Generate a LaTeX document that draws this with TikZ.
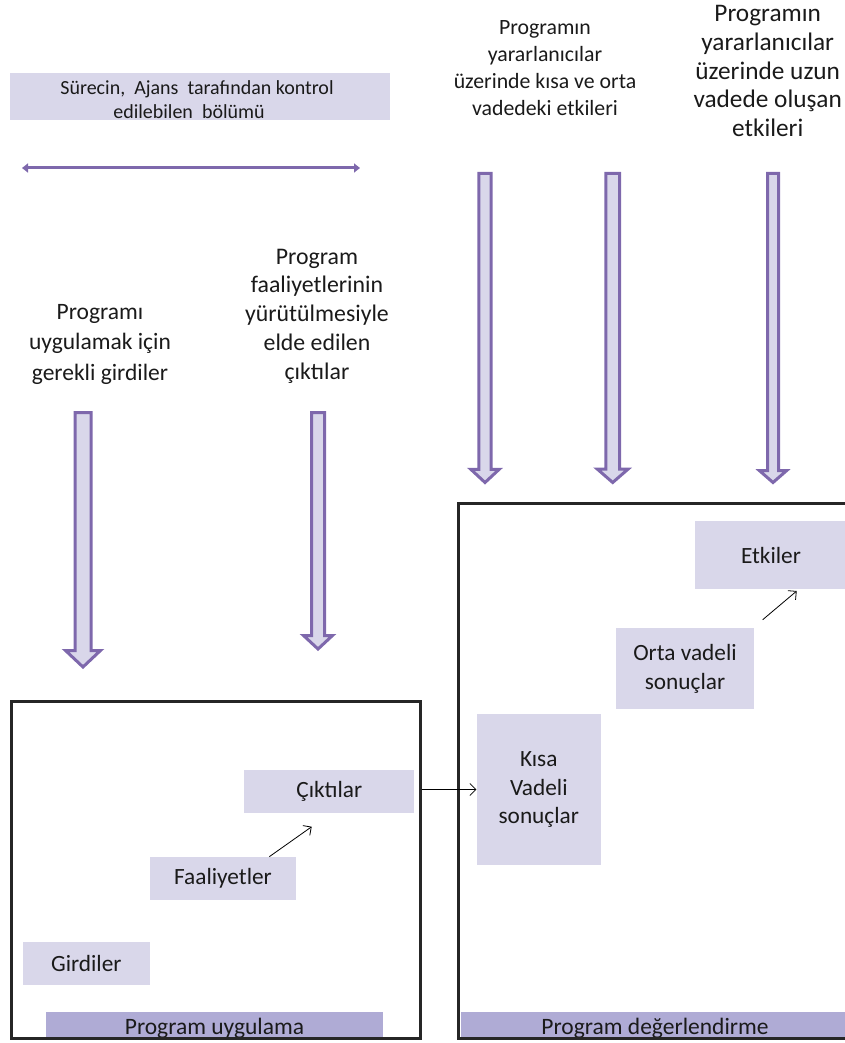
\documentclass[tikz,border=0pt]{standalone}
\usepackage{fontspec}
\setmainfont{Carlito}
\usetikzlibrary{arrows.meta}
\definecolor{lav}{HTML}{D9D7EA}
\definecolor{barc}{HTML}{AFABD5}
\definecolor{purp}{HTML}{7E68AC}
\definecolor{txt}{HTML}{1A1A1A}
\newcommand\blockarr[6]{% x, ytop, yneck, ytip, halfshaft, halfhead
  \draw[barrow] (#1-#5,#2) -- (#1+#5,#2) -- (#1+#5,#3) -- (#1+#6,#3) -- (#1,#4) -- (#1-#6,#3) -- (#1-#5,#3) -- cycle;}
\begin{document}
\begin{tikzpicture}[x=1pt,y=-1pt,
  lbox/.style={fill=lav, inner sep=0pt, text=txt, align=center, font=\fontsize{23.3}{28.9}\selectfont},
  bigtxt/.style={align=center, text=txt, inner sep=0pt},
  barrow/.style={draw=purp, fill=lav, line width=3pt, line join=miter},
  frame/.style={draw=black!85, line width=3pt},
  thinarr/.style={draw=black, line width=0.8pt, -{Straight Barb[length=6pt,width=12pt]}}]
\useasboundingbox (0,0) rectangle (845,1043);

% top-left label box and double arrow
\node[lbox, minimum width=380pt, minimum height=47pt] (ctrl) at (200,96.5) {};
\node[bigtxt, font=\fontsize{20}{23.5}\selectfont] (ctrlt) at (197,99.5) {Sürecin,\ \ Ajans\ \ tarafından kontrol\\edilebilen\ \ bölümü\hspace*{16pt}};
\coordinate (dl) at (22,168);
\coordinate (dr) at (360,168);
\draw[purp, line width=3pt, {Triangle[length=6pt,width=9pt]}-{Triangle[length=6pt,width=9pt]}] (dl) -- (dr);

% header texts
\node[bigtxt, font=\fontsize{23.5}{30.5}\selectfont] (t1) at (100,344) {Programı\\uygulamak için\\gerekli girdiler};
\node[bigtxt, font=\fontsize{23.8}{28.8}\selectfont] (t2) at (317,316) {Program\\faaliyetlerinin\\yürütülmesiyle\\elde edilen\\çıktılar};
\node[bigtxt, font=\fontsize{21.8}{27}\selectfont] (t3) at (545,68.5) {Programın\\yararlanıcılar\\üzerinde kısa ve orta\\vadedeki etkileri};
\node[bigtxt, font=\fontsize{25.3}{28.75}\selectfont] (t4) at (767.7,71) {Programın\\yararlanıcılar\\üzerinde uzun\\vadede oluşan\\etkileri};

% block arrows
\blockarr{83}{412.5}{650.5}{667}{8}{17.5}
\blockarr{318}{412.5}{635.5}{649}{6.5}{14.5}
\blockarr{485}{173.5}{469.3}{482.5}{6.2}{14.2}
\blockarr{612.7}{173.5}{469}{482.5}{6.8}{15.5}
\blockarr{773}{173.5}{470.7}{482.5}{5.5}{13.5}

% bottom bars (clipped text)
\fill[barc] (46,1011.7) rectangle (383,1038);
\begin{scope}
  \clip (46,1011.7) rectangle (383,1038);
  \node[anchor=base, inner sep=0pt, text=txt, font=\fontsize{23.5}{27}\selectfont] (pu) at (214.5,1034) {Program uygulama};
\end{scope}
\fill[barc] (461,1011.7) rectangle (845,1038);
\begin{scope}
  \clip (461,1011.7) rectangle (845,1038);
  \node[anchor=base, inner sep=0pt, text=txt, font=\fontsize{23.5}{27}\selectfont] (pd) at (655,1034.5) {Program değerlendirme};
\end{scope}

% frames
\draw[frame] (11.5,701) rectangle (420,1038.8);
\draw[frame] (850,503.4) -- (458.5,503.4) -- (458.5,1038.8) -- (850,1038.8);

% inner boxes
\node[lbox, minimum width=170pt, minimum height=42.5pt] (ck) at (329.3,791.3) {Çıktılar};
\node[lbox, minimum width=146pt, minimum height=43pt] (fa) at (223,878.3) {Faaliyetler};
\node[lbox, minimum width=127pt, minimum height=43.3pt] (gi) at (86.3,963.3) {Girdiler};
\node[lbox, minimum width=124.3pt, minimum height=151pt] (ks) at (538.8,789.5) {Kısa\\Vadeli\\sonuçlar};
\node[lbox, minimum width=138pt, minimum height=81.8pt] (ov) at (685,668.5) {Orta vadeli\\sonuçlar};
\node[lbox, minimum width=152pt, minimum height=68pt] (et) at (771,555) {Etkiler};

% thin arrows
\coordinate (a1s) at (269.3,856.7);
\coordinate (a1e) at (311.7,826.7);
\draw[thinarr] (a1s) -- (a1e);
\coordinate (a2s) at (762.7,619.7);
\coordinate (a2e) at (796.7,591);
\draw[thinarr] (a2s) -- (a2e);
\coordinate (a3s) at (421.5,789.5);
\draw[thinarr] (a3s) -- (ks.west);
\end{tikzpicture}
\end{document}
